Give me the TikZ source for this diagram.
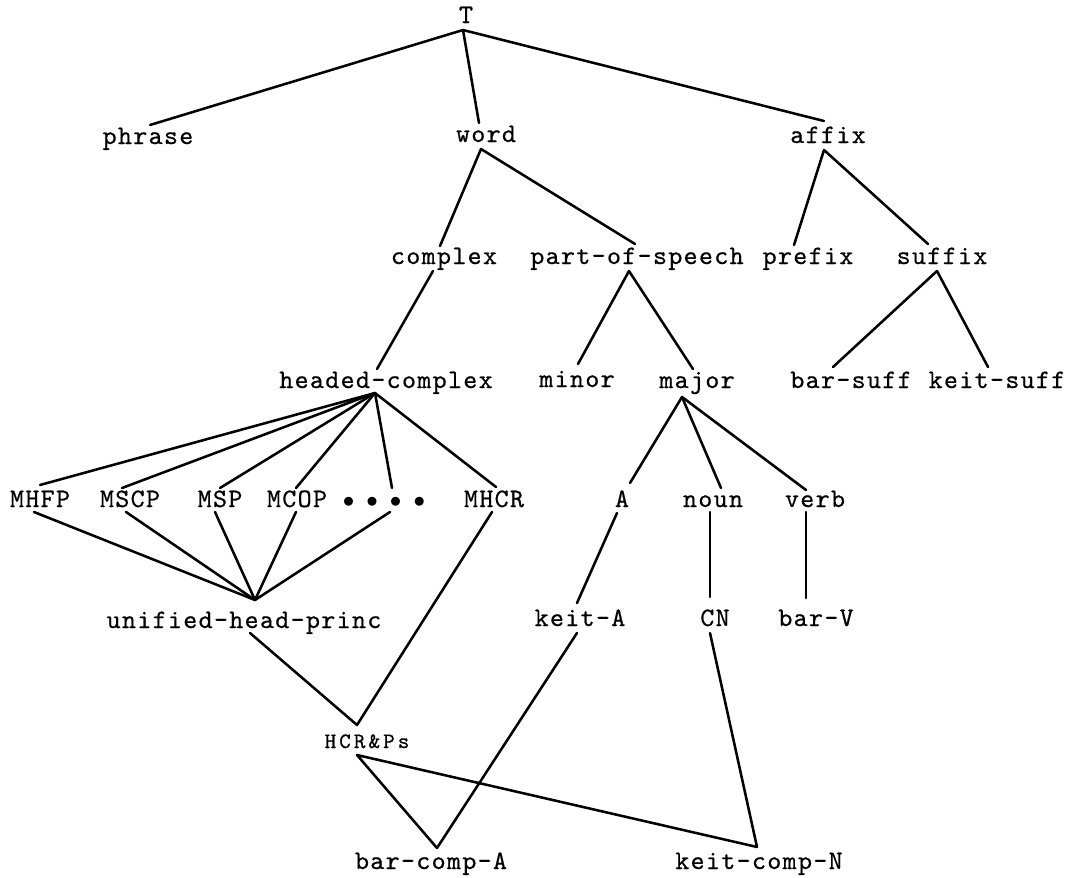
\documentclass[tikz,border=0pt]{standalone}
\usepackage{fontspec}
\setmonofont{lmmono10-regular}[Extension=.otf, LetterSpace=5, FakeBold=0.6]
\usetikzlibrary{calc}
\begin{document}
\begin{tikzpicture}[x=0.75pt,y=-0.75pt,
  lbl/.style={font=\ttfamily\fontsize{20}{21}\selectfont, inner xsep=0pt, inner ysep=5.25pt, text height=9pt, text depth=0pt, outer sep=0pt},
  smalllbl/.style={lbl, font=\ttfamily\fontsize{16.5}{17}\selectfont\addfontfeature{LetterSpace=14}},
  dotlbl/.style={lbl, font=\fontsize{18}{20}\selectfont},
  edge/.style={line width=1.9pt, line cap=round, line join=round}]
\useasboundingbox (0,0) rectangle (1072,878);
% nodes
\node[lbl] (T) at (466,17) {T};
\node[lbl] (phrase) at (148,138) {phrase};
\node[lbl] (word) at (486,136) {word};
\node[lbl] (affix) at (828,137) {affix};
\node[lbl] (complex) at (444,258) {complex};
\node[lbl] (pos) at (637,258) {part-of-speech};
\node[lbl] (prefix) at (808,258) {prefix};
\node[lbl] (suffix) at (942,258) {suffix};
\node[lbl] (hc) at (386,382) {headed-complex};
\node[lbl] (minor) at (577,381) {minor};
\node[lbl] (major) at (697,382) {major};
\node[lbl] (barsuff) at (851,382) {bar-suff};
\node[lbl] (keitsuff) at (997,382) {keit-suff};
\node[lbl] (MHFP) at (40,501) {MHFP};
\node[lbl] (MSCP) at (130,501) {MSCP};
\node[lbl] (MSP) at (220,501) {MSP};
\node[lbl] (MCOP) at (297,501) {MCOP};
\node[dotlbl] (dots) at (384,501) {$\bullet$\hspace{9pt}$\bullet$\hspace{9pt}$\bullet$\hspace{9pt}$\bullet$};
\node[lbl] (MHCR) at (494,501) {MHCR};
\node[lbl] (A) at (622,501) {A};
\node[lbl] (noun) at (713,501) {noun};
\node[lbl] (verb) at (815,501) {verb};
\node[lbl] (uhp) at (244,622) {unified-head-princ};
\node[lbl] (keitA) at (580,620) {keit-A};
\node[lbl] (CN) at (715,620) {CN};
\node[lbl] (barV) at (816,620) {bar-V};
\node[smalllbl] (HCR) at (367,742) {HCR\&Ps};
\node[lbl] (barcompA) at (431,863) {bar-comp-A};
\node[lbl] (keitcompN) at (759,863) {keit-comp-N};
% edges
\draw[edge] ($(phrase.north)+(2,0)$) -- ($(T.south)+(-3,0)$) -- ($(word.north)+(-7,0)$);
\draw[edge] ($(T.south)+(-3,0)$) -- ($(affix.north)+(-4,-3)$);
\draw[edge] ($(complex.north)+(-4,1)$) -- ($(word.south)+(-5,0)$) -- ($(pos.north)+(-2,-1)$);
\draw[edge] ($(prefix.north)+(-14,0)$) -- ($(affix.south)+(-4,0)$) -- ($(suffix.north)+(-14,-1)$);
\draw[edge] ($(complex.south)+(-11,0)$) -- ($(hc.north)+(-9,0)$);
\draw[edge] ($(minor.north)+(1,-4)$) -- ($(pos.south)+(-8,0)$) -- ($(major.north)+(-4,0)$);
\draw[edge] ($(barsuff.north)+(-18,-2)$) -- ($(suffix.south)+(-5,0)$) -- ($(keitsuff.north)+(-9,-2)$);
\foreach \n/\dx/\dy in {MHFP/0/-3, MSCP/-8/0, MSP/0/0, MCOP/-1/0, dots/8/0, MHCR/2/-1}
  \draw[edge] ($(hc.south)+(-11,-2)$) -- ($(\n.north)+(\dx,\dy)$);
\foreach \n/\dx/\dy in {A/8/-5, noun/8/0, verb/-9/2}
  \draw[edge] ($(major.south)+(-15,2)$) -- ($(\n.north)+(\dx,\dy)$);
\foreach \n/\dx in {MHFP/-6, MSCP/-4, MSP/-5, MCOP/-1, dots/6}
  \draw[edge] ($(\n.south)+(\dx,-2)$) -- ($(uhp.north)+(11,-9)$);
\draw[edge] ($(A.south)+(-5,-1)$) -- ($(keitA.north)+(-3,-4)$);
\draw[edge] ($(noun.south)+(-3,-2)$) -- ($(CN.north)+(-5,-10)$);
\draw[edge] ($(verb.south)+(-9,-2)$) -- ($(barV.north)+(-10,-9)$);
\draw[edge] ($(uhp.south)+(6,-2)$) -- ($(HCR.north)+(-10,-4)$) -- ($(MHCR.south)+(-2,-2)$);
\draw[edge] ($(barcompA.north)+(6,-2)$) -- ($(HCR.south)+(-10,0)$) -- ($(keitcompN.north)+(-2,-3)$);
\draw[edge] ($(keitA.south)+(-3,0)$) -- ($(barcompA.north)+(6,-2)$);
\draw[edge] ($(CN.south)+(-5,0)$) -- ($(keitcompN.north)+(-2,-3)$);
\end{tikzpicture}
\end{document}
